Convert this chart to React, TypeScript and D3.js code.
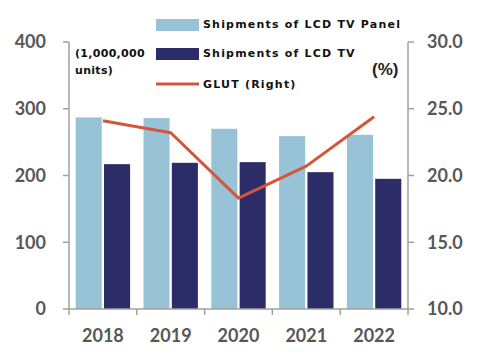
import React from "react";
import * as d3 from "d3";

const years = ["2018", "2019", "2020", "2021", "2022"];
const panelShipments = [287, 286, 270, 259, 261];
const tvShipments = [217, 219, 220, 205, 195];
const glut = [24.1, 23.2, 18.3, 20.7, 24.4];
const leftTicks = [0, 100, 200, 300, 400];
const rightTicks = [10, 15, 20, 25, 30];
const legendLabels = ["Shipments of LCD TV Panel", "Shipments of LCD TV", "GLUT (Right)"];

const W = 480, H = 352;
const L = 69, R = 408, T = 42, B = 309;
const LIGHT = "#98c3d7";
const DARK = "#2b2c68";
const ORANGE = "#d4553a";
const AXIS = "#a0a0a0";
const TXT = "#575757";

export default function App() {
  const x = d3.scaleBand<string>().domain(years).range([L, R]).paddingInner(0).paddingOuter(0);
  const inner = d3.scaleBand<string>().domain(["p", "t"]).range([0, x.bandwidth()]).paddingInner(0.08).paddingOuter(0.237);
  const yL = d3.scaleLinear().domain([0, 400]).range([B, T]);
  const yR = d3.scaleLinear().domain([10, 30]).range([B, T]);
  const line = d3.line<number>().x((_, i) => (x(years[i]) as number) + x.bandwidth() / 2).y((d) => yR(d));
  const tickFont = { fontFamily: "Lato, 'Open Sans', sans-serif", fontWeight: 700, fontSize: 18, fill: TXT };
  const unitFont = { fontFamily: "'DejaVu Sans', Verdana, sans-serif", fontWeight: 700, fontSize: 11, fill: "#111", letterSpacing: 0.3 };
  const legFont = { ...unitFont, letterSpacing: 1.2 };
  const boundaries = [...years.map((y) => x(y) as number), R];
  return (
    <div style={{ position: "absolute", left: 0, top: 0 }}>
      <svg width={W} height={H} style={{ display: "block", background: "#fff" }}>
        {years.map((y, i) => (
          <g key={y}>
            <rect x={(x(y) as number) + (inner("p") as number)} y={yL(panelShipments[i])} width={inner.bandwidth()} height={B - yL(panelShipments[i])} fill={LIGHT} />
            <rect x={(x(y) as number) + (inner("t") as number)} y={yL(tvShipments[i])} width={inner.bandwidth()} height={B - yL(tvShipments[i])} fill={DARK} />
          </g>
        ))}
        <path d={line(glut) as string} fill="none" stroke={ORANGE} strokeWidth={3} strokeLinejoin="round" />
        {/* axes */}
        <line x1={L} x2={L} y1={T} y2={B} stroke={AXIS} strokeWidth={1.5} />
        <line x1={R} x2={R} y1={T} y2={B} stroke={AXIS} strokeWidth={1.5} />
        <line x1={L} x2={R} y1={B} y2={B} stroke={AXIS} strokeWidth={1.5} />
        {leftTicks.map((t) => (
          <g key={"l" + t}>
            <line x1={L - 6} x2={L} y1={yL(t)} y2={yL(t)} stroke={AXIS} strokeWidth={1.5} />
            <text x={46} y={yL(t)} dy="0.35em" textAnchor="end" {...tickFont}>{t}</text>
          </g>
        ))}
        {rightTicks.map((t) => (
          <g key={"r" + t}>
            <line x1={R} x2={R + 6} y1={yR(t)} y2={yR(t)} stroke={AXIS} strokeWidth={1.5} />
            <text x={427} y={yR(t)} dy="0.35em" textAnchor="start" {...tickFont}>{t.toFixed(1)}</text>
          </g>
        ))}
        {boundaries.map((b, i) => (
          <line key={"b" + i} x1={b} x2={b} y1={B} y2={B + 6} stroke={AXIS} strokeWidth={1.5} />
        ))}
        {years.map((y) => (
          <text key={"x" + y} x={(x(y) as number) + x.bandwidth() / 2} y={342} textAnchor="middle" {...tickFont}>{y}</text>
        ))}
        {/* unit labels */}
        <text x={75} y={57} {...unitFont}>(1,000,000</text>
        <text x={75} y={74} {...unitFont}>units)</text>
        <text x={372} y={75} fontFamily="'Liberation Sans', Arial, sans-serif" fontWeight={700} fontSize={17} fill="#222">(%)</text>
        {/* legend */}
        <rect x={156} y={19} width={43} height={12} fill={LIGHT} />
        <text x={203} y={28} {...legFont}>{legendLabels[0]}</text>
        <rect x={156} y={48} width={43} height={12} fill={DARK} />
        <text x={203} y={57} {...legFont}>{legendLabels[1]}</text>
        <line x1={156} x2={199} y1={84} y2={84} stroke={ORANGE} strokeWidth={3} />
        <text x={203} y={88} {...legFont}>{legendLabels[2]}</text>
      </svg>
    </div>
  );
}
